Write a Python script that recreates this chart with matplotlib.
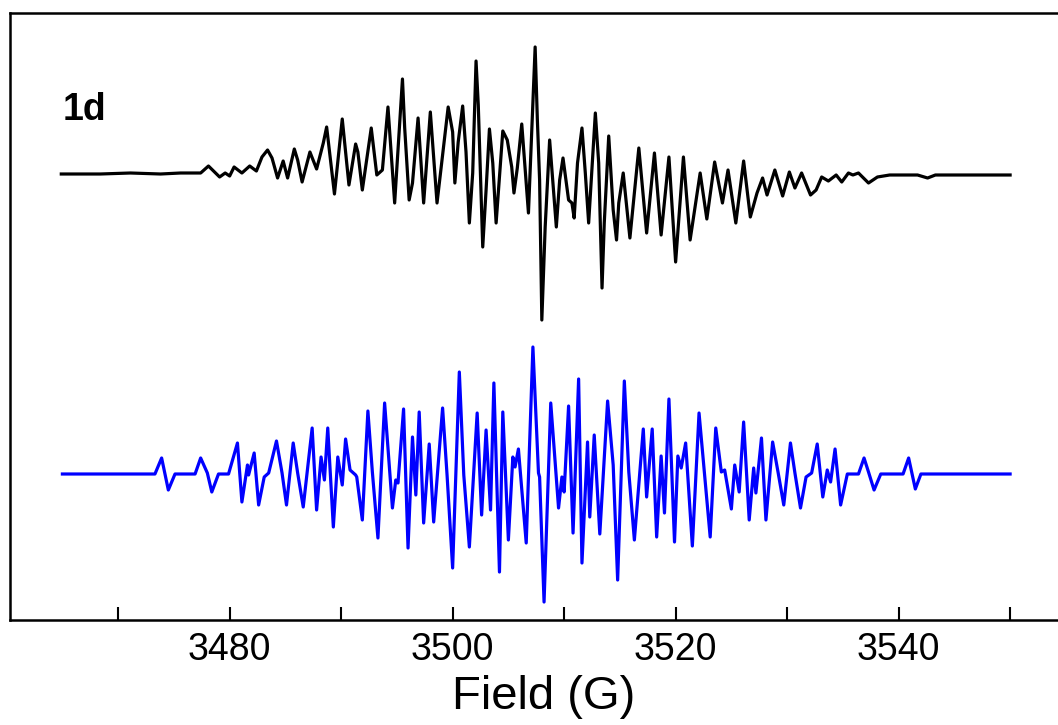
import matplotlib.pyplot as plt

plt.rcParams['font.family'] = ['Liberation Sans', 'DejaVu Sans']

# experimental spectrum (black), field in G, signal in arbitrary units
exp_field = [3464.9, 3468.4, 3471.1, 3473.8, 3475.6, 3477.4, 3478.1, 3479.1, 3479.6, 3480.0,
             3480.4, 3481.1, 3481.8, 3482.4, 3482.9, 3483.4, 3483.8, 3484.3, 3484.8, 3485.2,
             3485.8, 3486.1, 3486.5, 3487.2, 3487.8, 3488.4, 3488.7, 3489.4, 3490.1, 3490.7,
             3491.3, 3491.5, 3491.9, 3492.7, 3493.2, 3493.7, 3494.2, 3494.8, 3495.5, 3495.7,
             3496.1, 3496.4, 3496.9, 3497.4, 3498.0, 3498.6, 3499.6, 3500.0, 3500.2, 3500.5,
             3500.9, 3501.2, 3501.5, 3501.8, 3502.1, 3502.3, 3502.7, 3503.0, 3503.3, 3503.6,
             3503.9, 3504.5, 3504.9, 3505.3, 3505.5, 3505.8, 3506.2, 3506.8, 3507.4, 3507.6,
             3507.8, 3508.0, 3508.3, 3508.7, 3509.3, 3509.6, 3509.9, 3510.4, 3510.7, 3510.9,
             3511.2, 3511.6, 3511.9, 3512.2, 3512.8, 3513.1, 3513.4, 3513.6, 3514.0, 3514.4,
             3514.7, 3514.9, 3515.3, 3515.9, 3516.7, 3517.4, 3518.1, 3518.7, 3519.4, 3520.0,
             3520.7, 3521.3, 3522.2, 3522.8, 3523.5, 3524.2, 3524.7, 3525.4, 3526.1, 3526.7,
             3527.3, 3527.8, 3528.2, 3528.9, 3529.6, 3530.2, 3530.7, 3531.3, 3532.1, 3532.6,
             3533.1, 3533.7, 3534.4, 3534.9, 3535.5, 3535.9, 3536.4, 3537.3, 3538.1, 3539.2,
             3541.7, 3542.6, 3543.3, 3550.0]
exp_signal = [1, 1, 2, 1, 2, 2, 9, -2, 2, -1,
              8, 2, 9, 4, 18, 25, 17, -3, 14, -3,
              26, 15, -7, 23, 6, 32, 48, -19, 56, -10,
              31, 23, -15, 47, 0, 5, 68, -28, 96, 47,
              -25, -8, 57, -28, 63, -28, 68, 43, -8, 33,
              69, 23, -48, 2, 114, 70, -72, -15, 46, 12,
              -48, 44, 35, 8, -18, 7, 51, -38, 128, 55,
              -5, -145, -52, 35, -52, -5, 17, -25, -28, -43,
              12, 47, 2, -48, 62, 12, -113, -48, 39, -35,
              -65, -28, 2, -63, 27, -58, 22, -60, 18, -87,
              18, -65, 2, -44, 13, -28, 5, -48, 14, -42,
              -18, -3, -20, 5, -21, 3, -13, 2, -20, -15,
              -2, -6, 0, -7, 2, 0, 2, -8, -2, 0,
              0, -3, 0, 0]

# simulated spectrum (blue)
sim_field = [3465.0, 3473.3, 3473.9, 3474.5, 3475.1, 3476.9, 3477.4, 3478.0, 3478.4, 3479.0,
             3479.9, 3480.7, 3481.1, 3481.6, 3481.7, 3482.2, 3482.6, 3483.1, 3483.5, 3484.2,
             3484.7, 3485.1, 3485.7, 3486.1, 3486.6, 3487.4, 3487.8, 3488.2, 3488.5, 3488.8,
             3489.3, 3489.7, 3490.1, 3490.4, 3490.8, 3491.3, 3491.4, 3491.9, 3492.4, 3492.8,
             3493.3, 3493.9, 3494.6, 3494.9, 3495.1, 3495.6, 3496.0, 3496.4, 3496.7, 3497.0,
             3497.4, 3497.9, 3498.3, 3499.1, 3499.5, 3500.0, 3500.6, 3501.0, 3501.5, 3502.2,
             3502.6, 3503.0, 3503.4, 3503.7, 3504.2, 3504.5, 3505.0, 3505.4, 3505.6, 3505.9,
             3506.6, 3507.2, 3507.7, 3507.8, 3508.2, 3508.8, 3509.5, 3509.8, 3510.0, 3510.4,
             3510.8, 3511.3, 3511.6, 3512.1, 3512.3, 3512.7, 3513.2, 3513.9, 3514.4, 3514.8,
             3515.4, 3515.8, 3516.3, 3517.1, 3517.4, 3517.9, 3518.3, 3518.7, 3519.0, 3519.4,
             3519.9, 3520.2, 3520.5, 3520.9, 3521.5, 3522.1, 3522.6, 3523.1, 3523.6, 3524.1,
             3524.4, 3525.0, 3525.3, 3525.7, 3526.1, 3526.6, 3527.0, 3527.2, 3527.7, 3528.1,
             3528.7, 3529.2, 3529.7, 3530.3, 3530.7, 3531.2, 3531.7, 3532.2, 3532.7, 3533.2,
             3533.6, 3533.9, 3534.3, 3534.8, 3535.4, 3536.4, 3536.9, 3537.3, 3537.8, 3538.4,
             3540.4, 3540.9, 3541.5, 3542.0, 3550.0]
sim_signal = [0, 0, 16, -16, 0, 0, 16, 1, -18, 0,
              0, 31, -28, 9, -1, 21, -31, -3, 1, 33,
              1, -31, 31, 1, -33, 46, -36, 17, -6, 46,
              -53, 17, -11, 35, 4, -1, -3, -46, 63, 2,
              -64, 71, -34, -6, -9, 65, -74, 37, -21, 62,
              -49, 30, -48, 66, -1, -94, 102, -1, -73, 61,
              -41, 44, -36, 91, -98, 62, -66, 17, 7, 25,
              -69, 127, 1, -3, -128, 71, -34, -3, -18, 68,
              -59, 95, -89, 32, -43, 39, -60, 73, 9, -106,
              93, 2, -66, 45, -23, 45, -63, 18, -39, 75,
              -68, 18, 6, 31, -72, 61, -1, -63, 46, 2,
              4, -35, 9, -18, 52, -46, 6, -19, 36, -46,
              32, 1, -31, 31, 1, -34, -3, 1, 30, -23,
              4, -8, 25, -31, 0, 0, 16, 2, -16, 0,
              0, 16, -15, 0, 0]

exp_offset = 299  # vertical shift of the experimental trace
xticks = [3470, 3480, 3490, 3500, 3510, 3520, 3530, 3540, 3550]
xtick_labels = ['', '3480', '', '3500', '', '3520', '', '3540', '']

fig = plt.figure(figsize=(10.58, 7.25), dpi=100)
ax = fig.add_axes([10 / 1058, 1 - 620 / 725, 1067 / 1058, 607 / 725])

ax.plot(exp_field, [v + exp_offset for v in exp_signal], color='black', lw=2.3,
        solid_joinstyle='round')
ax.plot(sim_field, sim_signal, color='blue', lw=2.3, solid_joinstyle='round')

ax.set_xlim(3460.3, 3556)
ax.set_ylim(-146, 461)
ax.set_yticks([])
ax.set_xticks(xticks)
ax.set_xticklabels(xtick_labels, fontsize=27)
ax.tick_params(axis='x', direction='in', length=9.5, width=1.5, pad=9)
for side in ['left', 'bottom', 'top', 'right']:
    ax.spines[side].set_linewidth(1.8)
ax.set_xlabel('Field (G)', fontsize=34, labelpad=5)

fig.text(63 / 1058, 1 - 120 / 725, '1d', fontsize=27, fontweight='bold', va='baseline')

plt.savefig('out.png', dpi=100)
